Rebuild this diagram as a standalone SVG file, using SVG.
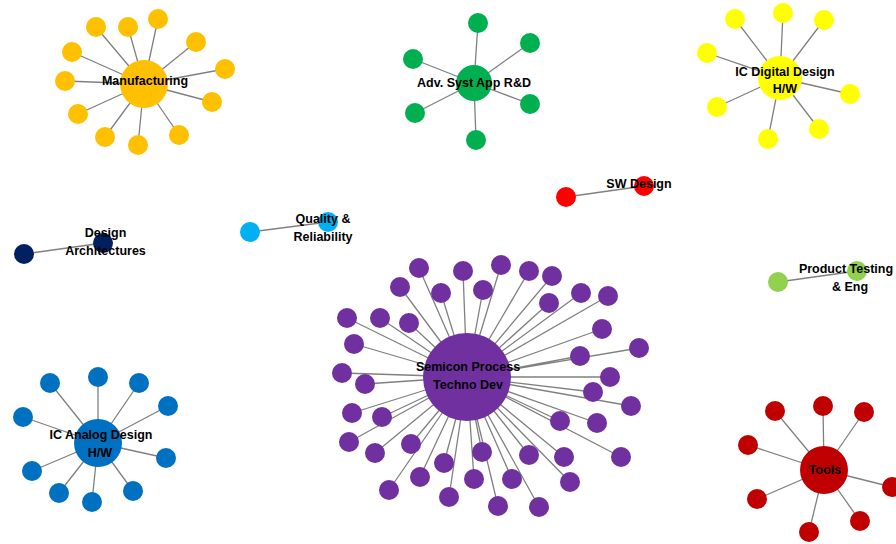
<svg xmlns="http://www.w3.org/2000/svg" width="896" height="544" viewBox="0 0 896 544">
<style>
.e{stroke:#808080;stroke-width:1.3;fill:none}
.lbl{font-family:"Liberation Sans",Arial,sans-serif;font-weight:bold;font-size:12.5px;fill:#000;text-anchor:middle}
.mf{fill:#FFC000}.ad{fill:#00B050}.dg{fill:#FFFF00}.sw{fill:#FF0000}.da{fill:#002060}.qr{fill:#00B0F0}.pt{fill:#92D050}.an{fill:#0070C0}.tl{fill:#C00000}.sc{fill:#7030A0}
</style>
<rect width="896" height="544" fill="#fff"/>
<g id="connectors">
<path class="e" d="M96,27L144,84M128,27L144,84M158,19L144,84M196,42L144,84M225,69L144,84M212,102L144,84M179,135L144,84M138,145L144,84M105,137L144,84M78,114L144,84M65,81L144,84M72,52L144,84"/>
<path class="e" d="M478,23L474,83M530,43L474,83M413,59L474,83M415,113L474,83M476,140L474,83M530,104L474,83"/>
<path class="e" d="M735,19L780,78M783,13L780,78M824,20L780,78M707,53L780,78M850,94L780,78M717,107L780,78M819,129L780,78M768,139L780,78"/>
<path class="e" d="M566,197L644,186M24,254L103,243M250,232L328,222M778,282L857,271"/>
<path class="e" d="M50,383L98,443M98,377L98,443M139,383L98,443M168,406L98,443M23,417L98,443M166,458L98,443M32,471L98,443M59,493L98,443M92,502L98,443M133,491L98,443"/>
<path class="e" d="M775,411L824,470M823,406L824,470M864,412L824,470M748,445L824,470M892,487L824,470M757,499L824,470M860,521L824,470M809,532L824,470"/>
<path class="e" d="M419,268L467,377M463,271L467,377M501,265L467,377M529,271L467,377M552,276L467,377M441,293L467,377M483,290L467,377M400,287L467,377M549,303L467,377M581,293L467,377M608,296L467,377M347,318L467,377M380,318L467,377M409,323L467,377M602,329L467,377M639,348L467,377M354,344L467,377M580,356L467,377M342,373L467,377M365,384L467,377M610,377L467,377M593,392L467,377M631,406L467,377M352,413L467,377M382,417L467,377M560,421L467,377M597,423L467,377M349,442L467,377M375,453L467,377M411,444L467,377M444,463L467,377M482,452L467,377M529,455L467,377M564,457L467,377M621,457L467,377M420,477L467,377M474,479L467,377M512,479L467,377M570,482L467,377M389,490L467,377M449,497L467,377M498,506L467,377M539,507L467,377"/>
</g>
<g id="manufacturing" class="mf">
<circle cx="144" cy="84" r="24"/>
<circle cx="96" cy="27" r="10"/><circle cx="128" cy="27" r="10"/><circle cx="158" cy="19" r="10"/><circle cx="196" cy="42" r="10"/><circle cx="225" cy="69" r="10"/><circle cx="212" cy="102" r="10"/><circle cx="179" cy="135" r="10"/><circle cx="138" cy="145" r="10"/><circle cx="105" cy="137" r="10"/><circle cx="78" cy="114" r="10"/><circle cx="65" cy="81" r="10"/><circle cx="72" cy="52" r="10"/>
</g>
<g id="adv-syst-app" class="ad">
<circle cx="474" cy="83" r="18"/>
<circle cx="478" cy="23" r="10"/><circle cx="530" cy="43" r="10"/><circle cx="413" cy="59" r="10"/><circle cx="415" cy="113" r="10"/><circle cx="476" cy="140" r="10"/><circle cx="530" cy="104" r="10"/>
</g>
<g id="ic-digital" class="dg">
<circle cx="780" cy="78" r="22"/>
<circle cx="735" cy="19" r="10"/><circle cx="783" cy="13" r="10"/><circle cx="824" cy="20" r="10"/><circle cx="707" cy="53" r="10"/><circle cx="850" cy="94" r="10"/><circle cx="717" cy="107" r="10"/><circle cx="819" cy="129" r="10"/><circle cx="768" cy="139" r="10"/>
</g>
<g id="sw-design" class="sw">
<circle cx="644" cy="186" r="10"/><circle cx="566" cy="197" r="10"/>
</g>
<g id="design-architectures" class="da">
<circle cx="103" cy="243" r="10"/><circle cx="24" cy="254" r="10"/>
</g>
<g id="quality-reliability" class="qr">
<circle cx="328" cy="222" r="10"/><circle cx="250" cy="232" r="10"/>
</g>
<g id="product-testing" class="pt">
<circle cx="857" cy="271" r="10"/><circle cx="778" cy="282" r="10"/>
</g>
<g id="ic-analog" class="an">
<circle cx="98" cy="443" r="24"/>
<circle cx="50" cy="383" r="10"/><circle cx="98" cy="377" r="10"/><circle cx="139" cy="383" r="10"/><circle cx="168" cy="406" r="10"/><circle cx="23" cy="417" r="10"/><circle cx="166" cy="458" r="10"/><circle cx="32" cy="471" r="10"/><circle cx="59" cy="493" r="10"/><circle cx="92" cy="502" r="10"/><circle cx="133" cy="491" r="10"/>
</g>
<g id="tools" class="tl">
<circle cx="824" cy="470" r="24"/>
<circle cx="775" cy="411" r="10"/><circle cx="823" cy="406" r="10"/><circle cx="864" cy="412" r="10"/><circle cx="748" cy="445" r="10"/><circle cx="892" cy="487" r="10"/><circle cx="757" cy="499" r="10"/><circle cx="860" cy="521" r="10"/><circle cx="809" cy="532" r="10"/>
</g>
<g id="semicon-process" class="sc">
<circle cx="467" cy="377" r="44"/>
<circle cx="419" cy="268" r="10"/><circle cx="463" cy="271" r="10"/><circle cx="501" cy="265" r="10"/><circle cx="529" cy="271" r="10"/><circle cx="552" cy="276" r="10"/><circle cx="441" cy="293" r="10"/><circle cx="483" cy="290" r="10"/><circle cx="400" cy="287" r="10"/><circle cx="549" cy="303" r="10"/><circle cx="581" cy="293" r="10"/><circle cx="608" cy="296" r="10"/><circle cx="347" cy="318" r="10"/><circle cx="380" cy="318" r="10"/><circle cx="409" cy="323" r="10"/><circle cx="602" cy="329" r="10"/><circle cx="639" cy="348" r="10"/><circle cx="354" cy="344" r="10"/><circle cx="580" cy="356" r="10"/><circle cx="342" cy="373" r="10"/><circle cx="365" cy="384" r="10"/><circle cx="610" cy="377" r="10"/><circle cx="593" cy="392" r="10"/><circle cx="631" cy="406" r="10"/><circle cx="352" cy="413" r="10"/><circle cx="382" cy="417" r="10"/><circle cx="560" cy="421" r="10"/><circle cx="597" cy="423" r="10"/><circle cx="349" cy="442" r="10"/><circle cx="375" cy="453" r="10"/><circle cx="411" cy="444" r="10"/><circle cx="444" cy="463" r="10"/><circle cx="482" cy="452" r="10"/><circle cx="529" cy="455" r="10"/><circle cx="564" cy="457" r="10"/><circle cx="621" cy="457" r="10"/><circle cx="420" cy="477" r="10"/><circle cx="474" cy="479" r="10"/><circle cx="512" cy="479" r="10"/><circle cx="570" cy="482" r="10"/><circle cx="389" cy="490" r="10"/><circle cx="449" cy="497" r="10"/><circle cx="498" cy="506" r="10"/><circle cx="539" cy="507" r="10"/>
</g>
<g id="labels">
<text class="lbl" x="145" y="84.5">Manufacturing</text>
<text class="lbl" x="474" y="86.5">Adv. Syst App R&amp;D</text>
<text class="lbl" x="785" y="75.5">IC Digital Design</text>
<text class="lbl" x="785" y="92.5">H/W</text>
<text class="lbl" x="639" y="187.5">SW Design</text>
<text class="lbl" x="105.5" y="236.5">Design</text>
<text class="lbl" x="105.5" y="255">Architectures</text>
<text class="lbl" x="323" y="222.5">Quality &amp;</text>
<text class="lbl" x="323" y="240.5">Reliability</text>
<text class="lbl" x="846" y="272.5">Product Testing</text>
<text class="lbl" x="850" y="290.5">&amp; Eng</text>
<text class="lbl" x="468" y="371">Semicon Process</text>
<text class="lbl" x="468" y="388.5">Techno Dev</text>
<text class="lbl" x="101" y="438.5">IC Analog Design</text>
<text class="lbl" x="100" y="456.5">H/W</text>
<text class="lbl" x="825" y="473.5">Tools</text>
</g>
</svg>
